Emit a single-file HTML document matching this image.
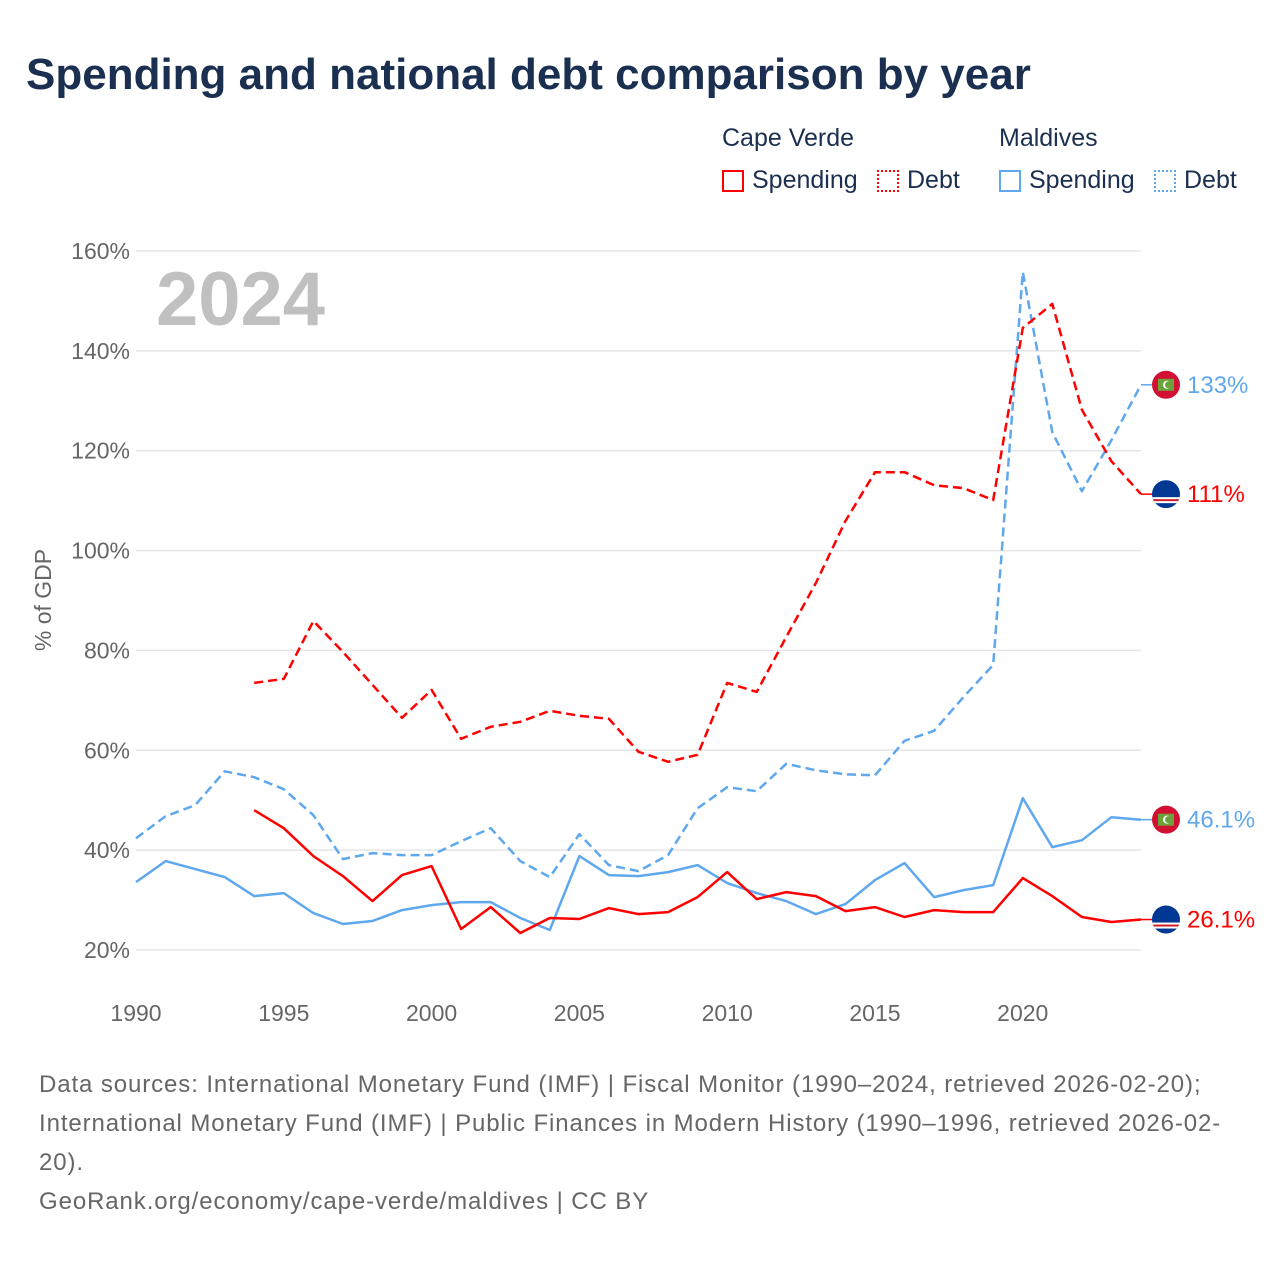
<!DOCTYPE html>
<html><head><meta charset="utf-8">
<style>
html,body{margin:0;padding:0;background:#fff;}
body{width:1280px;height:1280px;position:relative;overflow:hidden;font-family:"Liberation Sans",sans-serif;}
#title{position:absolute;left:26px;top:50px;font-size:44px;font-weight:bold;color:#1b2f50;margin:0;letter-spacing:0px;}
.lg{position:absolute;font-size:25px;color:#1b2f50;}
.sw{position:absolute;width:22px;height:22px;box-sizing:border-box;}
#foot{position:absolute;left:39px;top:1065px;font-size:24px;line-height:39px;color:#666;width:1240px;white-space:nowrap;letter-spacing:0.9px;}
svg{position:absolute;left:0;top:0;}
</style></head><body>
<h1 id="title">Spending and national debt comparison by year</h1>
<div class="lg" style="left:722px;top:124px">Cape Verde</div>
<div class="lg" style="left:999px;top:124px">Maldives</div>
<div><div class="sw" style="left:722px;top:170px;border:2px solid #f00"></div><div class="lg" style="left:752px;top:166px">Spending</div></div>
<div><div class="sw" style="left:877px;top:170px;border:2px dotted #f00"></div><div class="lg" style="left:907px;top:166px">Debt</div></div>
<div><div class="sw" style="left:999px;top:170px;border:2px solid #5fa8ee"></div><div class="lg" style="left:1029px;top:166px">Spending</div></div>
<div><div class="sw" style="left:1154px;top:170px;border:2px dotted #5fa8ee"></div><div class="lg" style="left:1184px;top:166px">Debt</div></div>
<svg id="chart" width="1280" height="1280"></svg>
<div id="foot">Data sources: International Monetary Fund (IMF) | Fiscal Monitor (1990–2024, retrieved 2026-02-20);<br>International Monetary Fund (IMF) | Public Finances in Modern History (1990–1996, retrieved 2026-02-<br>20).<br>GeoRank.org/economy/cape-verde/maldives | CC BY</div>
<script>
const mvYears0 = 1990;
const cvYears0 = 1994;
const mvSpending = [33.6,37.8,36.2,34.6,30.8,31.4,27.4,25.2,25.8,28.0,29.0,29.6,29.6,26.4,24.0,38.8,35.0,34.8,35.6,37.0,33.4,31.4,29.8,27.2,29.2,34.0,37.4,30.6,32.0,33.0,50.4,40.6,42.0,46.6,46.1];
const mvDebt = [42.4,46.8,49.0,55.8,54.6,52.2,47.0,38.2,39.4,39.0,39.0,41.8,44.4,37.8,34.6,43.2,37.0,35.8,39.0,48.4,52.6,51.8,57.3,56.0,55.2,55.0,61.9,63.9,70.7,77.1,155.8,123.7,111.9,122.1,133.2];
const cvSpending = [48.0,44.4,38.8,34.8,29.8,35.0,36.8,24.2,28.6,23.4,26.4,26.2,28.4,27.2,27.6,30.6,35.6,30.2,31.6,30.8,27.8,28.6,26.6,28.0,27.6,27.6,34.4,30.8,26.6,25.6,26.1];
const cvDebt = [73.5,74.3,85.9,79.7,73.1,66.5,72.1,62.3,64.7,65.7,67.9,66.9,66.3,59.7,57.7,59.1,73.5,71.7,82.7,93.5,105.9,115.7,115.7,113.1,112.5,110.1,144.6,149.4,128.2,117.9,111.3];
const yTicks = [20,40,60,80,100,120,140,160];
const yTickLabels = ["20%","40%","60%","80%","100%","120%","140%","160%"];
const xTicks = [1990,1995,2000,2005,2010,2015,2020];
const endLabels = ["133%","111%","46.1%","26.1%"];

const NS="http://www.w3.org/2000/svg";
const svg=document.getElementById('chart');
const X0=136,X1=1141,Y0=950,Y1=251;
function x(yr){return X0+(yr-1990)*(X1-X0)/34;}
function y(v){return Y0-(v-20)*(Y0-Y1)/140;}
function mk(t,a){const e=document.createElementNS(NS,t);for(const k in a)e.setAttribute(k,a[k]);svg.appendChild(e);return e;}

yTicks.forEach((v,i)=>{
  const g=mk('line',{x1:X0,x2:X1,y1:y(v),y2:y(v),stroke:'#e6e6e6','stroke-width':1.5});
  
  
  const t=mk('text',{x:130,y:y(v)+8,'text-anchor':'end','font-size':23,fill:'#666','font-family':'Liberation Sans, sans-serif'});
  t.textContent=yTickLabels[i];
  
  
});
xTicks.forEach(v=>{
  const t=mk('text',{x:x(v),y:1021,'text-anchor':'middle','font-size':23,fill:'#666','font-family':'Liberation Sans, sans-serif'});
  t.textContent=v;
  
  
});
const yt=mk('text',{x:0,y:0,transform:'translate(51,600) rotate(-90)','text-anchor':'middle','font-size':23,fill:'#666','font-family':'Liberation Sans, sans-serif'});
yt.textContent='% of GDP';


const yr=mk('text',{x:156,y:325,'font-size':76,'font-weight':'bold',fill:'#c0c0c0','font-family':'Liberation Sans, sans-serif'});
yr.textContent='2024';



function series(arr,start,color,dash,name){
  const pts=arr.map((v,i)=>x(start+i).toFixed(1)+','+y(v).toFixed(1)).join(' ');
  const p=mk('polyline',{points:pts,fill:'none',stroke:color,'stroke-width':2.5,'stroke-linejoin':'round'});
  if(dash)p.setAttribute('stroke-dasharray','9,5');
  
  
}
series(mvSpending,mvYears0,'#5fa8ee',false,'line-maldives-spending');
series(mvDebt,mvYears0,'#5fa8ee',true,'line-maldives-debt');
series(cvSpending,cvYears0,'#ff0000',false,'line-cape-verde-spending');
series(cvDebt,cvYears0,'#ff0000',true,'line-cape-verde-debt');

function flag(v,kind,label,color,name){
  const cy=y(v),cx=1166;
  mk('line',{x1:X1,x2:cx-14,y1:cy,y2:cy,stroke:color,'stroke-width':1.5});
  const g=document.createElementNS(NS,'g');svg.appendChild(g);
  
  
  const add=(t,a)=>{const e=document.createElementNS(NS,t);for(const k in a)e.setAttribute(k,a[k]);g.appendChild(e);return e;};
  const cid='c'+Math.round(cy);
  const cp=add('clipPath',{id:cid});const cc=document.createElementNS(NS,'circle');cc.setAttribute('cx',cx);cc.setAttribute('cy',cy);cc.setAttribute('r',14);cp.appendChild(cc);
  if(kind==='mv'){
    add('circle',{cx:cx,cy:cy,r:14,fill:'#d21034'});
    add('rect',{x:cx-8,y:cy-6,width:16,height:12,fill:'#6ba33a'});
    add('circle',{cx:cx+1,cy:cy,r:4,fill:'#fff'});
    add('circle',{cx:cx+2.5,cy:cy,r:3.5,fill:'#6ba33a'});
  }else{
    add('rect',{x:cx-14,y:cy-14,width:28,height:28,fill:'#003893','clip-path':'url(#'+cid+')'});
    add('rect',{x:cx-14,y:cy+3,width:28,height:6,fill:'#fff','clip-path':'url(#'+cid+')'});
    add('rect',{x:cx-14,y:cy+5,width:28,height:2,fill:'#cf2027','clip-path':'url(#'+cid+')'});
  }
  const t=mk('text',{x:1187,y:cy+8,'font-size':24,fill:color,'font-family':'Liberation Sans, sans-serif'});
  t.textContent=label;
  
  
}
flag(mvDebt[mvDebt.length-1],'mv',endLabels[0],'#5fa8ee','end-maldives-debt');
flag(cvDebt[cvDebt.length-1],'cv',endLabels[1],'#ff0000','end-cape-verde-debt');
flag(mvSpending[mvSpending.length-1],'mv',endLabels[2],'#5fa8ee','end-maldives-spending');
flag(cvSpending[cvSpending.length-1],'cv',endLabels[3],'#ff0000','end-cape-verde-spending');
</script>
</body></html>
